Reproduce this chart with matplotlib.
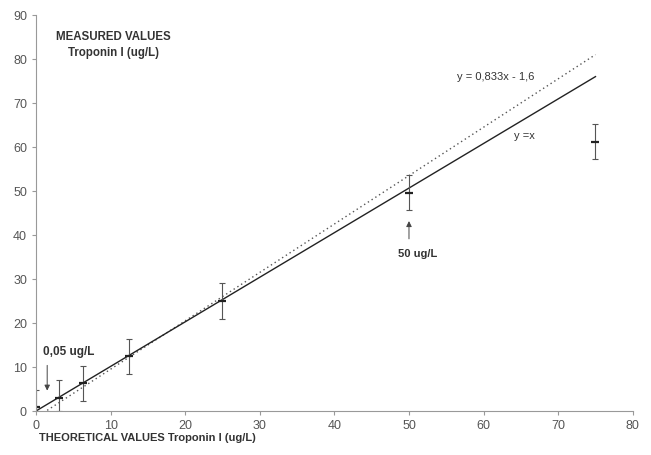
import matplotlib
matplotlib.use('Agg')
import matplotlib.pyplot as plt

plt.rcParams['font.family'] = ['Liberation Sans', 'DejaVu Sans']

# theoretical vs measured values
theo = [0, 3.1, 6.25, 12.5, 25, 50, 75]
meas = [0.9, 3.0, 6.3, 12.5, 25.0, 49.5, 61.1]
err_low = [0.9, 3.0, 4.0, 4.1, 4.0, 3.8, 3.8]
err_high = [3.9, 4.0, 3.9, 3.9, 4.0, 4.1, 4.1]

line_x = [0, 75]
line_ident = [0, 76]
line_fit = [-1.5, 81]

fig = plt.figure(figsize=(6.51, 4.55), dpi=100)
ax = fig.add_axes([0.0553, 0.0967, 0.9167, 0.8703])

ax.plot(line_x, line_fit, color='#555555', linestyle=(0, (1, 2.2)), linewidth=1.0)
ax.plot(line_x, line_ident, color='#222222', linestyle='-', linewidth=1.0)
ax.errorbar(theo, meas, yerr=[err_low, err_high], fmt='none',
            ecolor='#555555', elinewidth=0.8, capsize=2.5, capthick=0.8)
ax.plot(theo, meas, linestyle='none', marker='_', color='#222222',
        markersize=6, markeredgewidth=1.6)

ax.set_xlim(0, 80)
ax.set_ylim(0, 90)
ax.set_xticks(range(0, 81, 10))
ax.set_yticks(range(0, 91, 10))
for s in ['top', 'right']:
    ax.spines[s].set_visible(False)
for s in ['left', 'bottom']:
    ax.spines[s].set_color('#999999')
    ax.spines[s].set_linewidth(0.8)
ax.tick_params(colors='#999999', labelcolor='#555555', labelsize=9, length=3, width=0.8)

ax.text(0.0335, 0.945, 'MEASURED VALUES', transform=ax.transAxes, ha='left',
        va='center', fontsize=8.3, fontweight='bold', color='#333333')
ax.text(0.054, 0.905, 'Troponin I (ug/L)', transform=ax.transAxes, ha='left',
        va='center', fontsize=8.3, fontweight='bold', color='#333333')
fig.text(0.06, 0.037, 'THEORETICAL VALUES Troponin I (ug/L)', ha='left',
         va='center', fontsize=8, fontweight='bold', color='#333333')

ax.text(61.6, 75.8, 'y = 0,833x - 1,6', ha='center', va='center', fontsize=8, color='#333333')
ax.text(65.5, 62.5, 'y =x', ha='center', va='center', fontsize=8, color='#333333')
ax.text(51.2, 35.6, '50 ug/L', ha='center', va='center', fontsize=8, fontweight='bold', color='#333333')
ax.text(4.4, 13.5, '0,05 ug/L', ha='center', va='center', fontsize=8.5, fontweight='bold', color='#333333')

ax.annotate('', xy=(50, 43.8), xytext=(50, 38.5),
            arrowprops=dict(arrowstyle='-|>', color='#444444', lw=0.7, mutation_scale=8))
ax.annotate('', xy=(1.5, 4.0), xytext=(1.5, 11.0),
            arrowprops=dict(arrowstyle='-|>', color='#444444', lw=0.7, mutation_scale=8))

plt.savefig('out.png', dpi=100)
